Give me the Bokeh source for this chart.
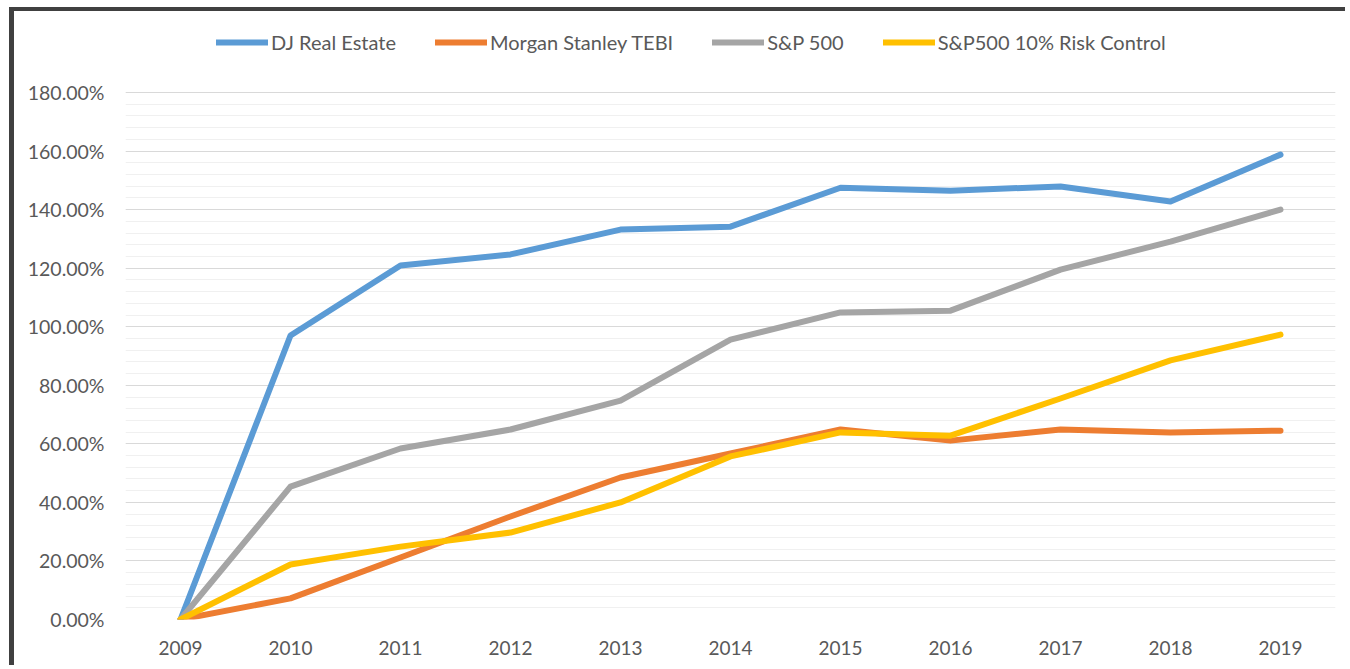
from bokeh.plotting import figure
from bokeh.models import FixedTicker, PrintfTickFormatter, Legend, LegendItem, Range1d
from bokeh.embed import file_html
from bokeh.resources import INLINE

years = [2009, 2010, 2011, 2012, 2013, 2014, 2015, 2016, 2017, 2018, 2019]
dj_real_estate = [0, 97.0, 120.9, 124.7, 133.2, 134.2, 147.5, 146.5, 147.9, 142.8, 158.8]
morgan_stanley_tebi = [0, 7.2, 21.2, 35.2, 48.5, 56.7, 64.9, 61.1, 64.9, 63.9, 64.5]
sp500 = [0, 45.4, 58.4, 64.9, 74.8, 95.6, 104.9, 105.5, 119.5, 129.1, 140.0]
sp500_risk_control = [0, 18.8, 24.9, 29.7, 40.0, 55.7, 63.9, 62.8, 75.5, 88.5, 97.3]

series_names = ["DJ Real Estate", "Morgan Stanley TEBI", "S&P 500", "S&P500 10% Risk Control"]
series_values = [dj_real_estate, morgan_stanley_tebi, sp500, sp500_risk_control]
series_colors = ["#5B9BD5", "#ED7D31", "#A5A5A5", "#FFC000"]

FONT = "Lato"

p = figure(width=1336, height=658, output_backend="svg", toolbar_location=None,
           x_range=Range1d(2008.5, 2019.5), y_range=Range1d(0, 201.2),
           min_border_left=111, min_border_right=15, min_border_top=19, min_border_bottom=50)
p.outline_line_color = None
p.background_fill_color = "white"
p.border_fill_color = "white"
p.styles = {"margin-left": "9px", "margin-top": "7px",
            "border-top": "4px solid #404040", "border-left": "5px solid #404040"}

items = []
for name, vals, col in zip(series_names, series_values, series_colors):
    r = p.line(years, vals, line_color=col, line_width=6, line_cap="round", line_join="round")
    items.append(LegendItem(label=name, renderers=[r]))

legend = Legend(items=items, orientation="horizontal", location=(91, 565),
                label_text_font=FONT, label_text_font_size="20px", label_text_color="#595959",
                glyph_width=52, glyph_height=20, label_standoff=3, spacing=39,
                border_line_color=None, background_fill_alpha=0, margin=0, padding=0)
p.add_layout(legend, "center")

p.xaxis.ticker = FixedTicker(ticks=years)
p.yaxis.ticker = FixedTicker(ticks=list(range(0, 181, 20)), minor_ticks=list(range(0, 181, 4)))
p.yaxis.formatter = PrintfTickFormatter(format="%.2f%%")

for ax in [p.xaxis[0], p.yaxis[0]]:
    ax.axis_line_color = None
    ax.major_tick_line_color = None
    ax.minor_tick_line_color = None
    ax.major_label_text_font = FONT
    ax.major_label_text_color = "#595959"
p.xaxis.major_label_text_font_size = "19px"
p.yaxis.major_label_text_font_size = "19.5px"
p.xaxis.major_label_standoff = 15
p.yaxis.major_label_standoff = 15

p.xgrid.grid_line_color = None
p.ygrid.grid_line_color = "#D9D9D9"
p.ygrid.grid_line_width = 1
p.ygrid.minor_grid_line_color = "#F0F0F0"
p.ygrid.minor_grid_line_width = 1

open("out.html", "w").write(file_html(p, INLINE))
